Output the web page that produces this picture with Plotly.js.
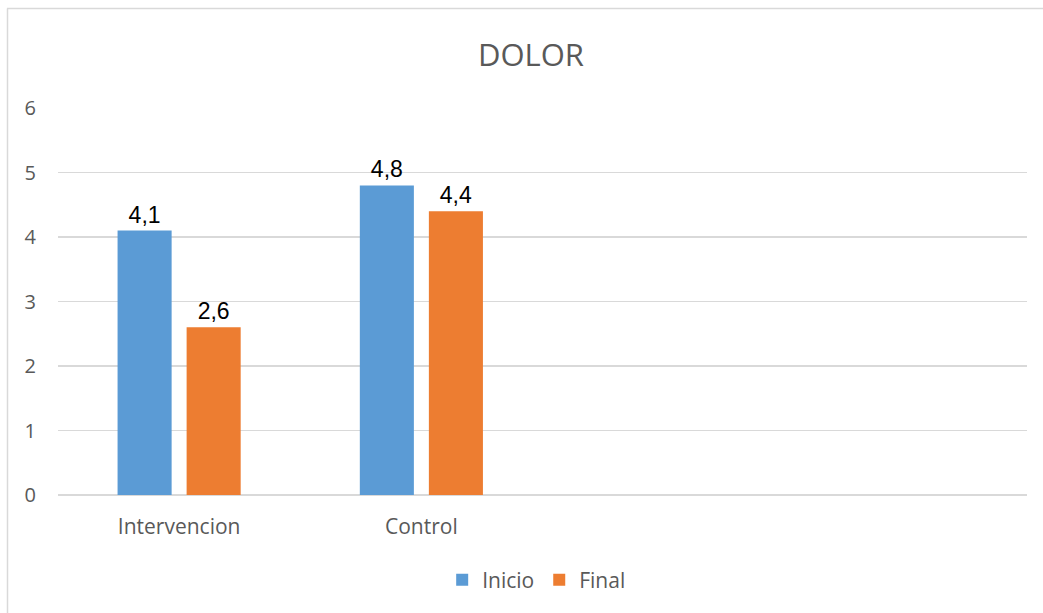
<!DOCTYPE html>
<html><head><meta charset="utf-8">
<script src="https://cdn.plot.ly/plotly-3.0.1.min.js"></script>
<style>html,body{margin:0;padding:0;background:#fff}</style>
</head><body>
<div id="chart" style="width:1043px;height:613px"></div>
<script>
const categories = ["Intervencion", "Control"];
const inicio = [4.1, 4.8];
const final_ = [2.6, 4.4];
const seriesNames = ["Inicio", "Final"];
const yTicks = [0, 1, 2, 3, 4, 5, 6];

const labelFont = {family: "Liberation Sans, Arial, sans-serif", size: 23, color: "#000"};
const traces = [
  {type: "bar", name: seriesNames[0], x: categories, y: inicio, marker: {color: "#5B9BD5"},
   text: inicio, texttemplate: "%{y:.1f}", textposition: "outside", textfont: labelFont,
   constraintext: "none", cliponaxis: false},
  {type: "bar", name: seriesNames[1], x: categories, y: final_, marker: {color: "#ED7D31"},
   text: final_, texttemplate: "%{y:.1f}", textposition: "outside", textfont: labelFont,
   constraintext: "none", cliponaxis: false}
];
const layout = {
  width: 1043, height: 613,
  margin: {l: 58, r: 16, t: 108, b: 118},
  separators: ", ",
  paper_bgcolor: "#fff", plot_bgcolor: "#fff",
  barmode: "group", bargap: 0.43, bargroupgap: 0.217,
  font: {family: "Open Sans, sans-serif", color: "#595959", size: 20},
  title: {text: "DOLOR", font: {family: "Open Sans, sans-serif", size: 31, color: "#595959"},
          x: 531/1043, xanchor: "center", y: 1 - 55/613, yanchor: "middle"},
  xaxis: {type: "category", range: [-0.5, 3.5], showgrid: false, showline: false, zeroline: false,
          ticks: "", ticklabelstandoff: 17, tickfont: {size: 21, color: "#595959"}, fixedrange: true},
  yaxis: {range: [0, 6], tickvals: yTicks, showgrid: true, gridcolor: "#d9d9d9", gridwidth: 1.2,
          zeroline: true, zerolinecolor: "#d9d9d9", zerolinewidth: 1.2, showline: false,
          ticks: "", ticklabelstandoff: 21, tickfont: {size: 20, color: "#595959"}, fixedrange: true},
  showlegend: true,
  legend: {orientation: "h", x: 0.494, xanchor: "center", y: -0.22, yanchor: "middle",
           font: {size: 21, color: "#595959"}, traceorder: "normal", itemwidth: 30},
  shapes: [
    {type: "line", xref: "paper", yref: "paper", x0: (7-58)/969, x1: (1043-58)/969,
     y0: (495-8.5)/387, y1: (495-8.5)/387, line: {color: "#d9d9d9", width: 1.5}},
    {type: "line", xref: "paper", yref: "paper", x0: (7.5-58)/969, x1: (7.5-58)/969,
     y0: (495-8.5)/387, y1: (495-613)/387, line: {color: "#d9d9d9", width: 1.5}}
  ]
};
Plotly.newPlot("chart", traces, layout, {displayModeBar: false, staticPlot: true});
</script>
</body></html>
